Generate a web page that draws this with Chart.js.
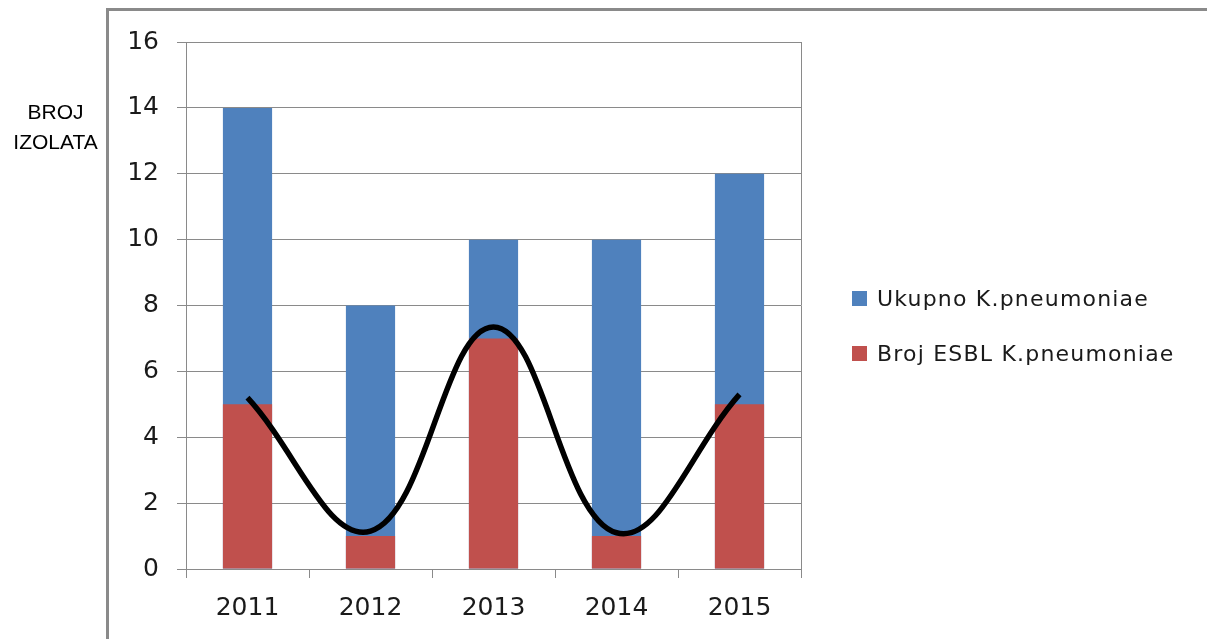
<!DOCTYPE html>
<html>
<head>
<meta charset="utf-8">
<script src="https://cdn.jsdelivr.net/npm/chart.js@4/dist/chart.umd.min.js"></script>
<style>
  body { margin: 0; background: #fff; }
  #wrap { position: relative; width: 1207px; height: 639px; overflow: hidden; }
  #okvir {
    position: absolute; left: 106px; top: 8px; width: 1200px; height: 700px;
    border-left: 3px solid #8a8a8a; border-top: 3px solid #8a8a8a;
  }
  #naslovY {
    position: absolute; left: 0; top: 97px; width: 111px; text-align: center;
    font-family: "Liberation Sans", Arial, sans-serif; font-size: 21px; line-height: 30px; color: #000;
  }
  #legenda {
    position: absolute; left: 852px; top: 283px;
    font-family: "DejaVu Sans", sans-serif; font-size: 22px; color: #1a1a1a; letter-spacing: 1.2px;
  }
  .stavka { display: flex; align-items: center; height: 30px; margin-bottom: 25px; }
  .kocka { width: 15px; height: 15px; margin-right: 10px; }
  canvas { position: absolute; left: 0; top: 0; }
</style>
</head>
<body>
<div id="wrap">
  <div id="okvir"></div>
  <canvas id="grafik" width="1207" height="639"></canvas>
  <div id="naslovY">BROJ<br>IZOLATA</div>
  <div id="legenda"></div>
</div>
<script>
// Podaci
const godine = ["2011", "2012", "2013", "2014", "2015"];
const ukupno = [14, 8, 10, 10, 12];
const esbl = [5, 1, 7, 1, 5];
const trend = [5.2, 1.15, 7.35, 1.1, 5.3];

const plava = "#4F81BD";
const crvena = "#C0504D";
const siva = "#8a8a8a";

const serije = [
  { label: "Ukupno K.pneumoniae", boja: plava },
  { label: "Broj ESBL K.pneumoniae", boja: crvena }
];

document.getElementById("legenda").innerHTML = serije.map(s =>
  `<div class="stavka"><span class="kocka" style="background:${s.boja}"></span>${s.label}</div>`
).join("");

new Chart(document.getElementById("grafik"), {
  type: "bar",
  data: {
    labels: godine,
    datasets: [
      { label: serije[0].label, data: ukupno, backgroundColor: plava, order: 2,
        barPercentage: 0.4, categoryPercentage: 1 },
      { label: serije[1].label, data: esbl, backgroundColor: crvena, order: 1,
        barPercentage: 0.4, categoryPercentage: 1 },
      { type: "line", label: "trend", data: trend, borderColor: "#000", borderWidth: 5.5,
        pointRadius: 0, tension: 0.4, fill: false, order: 0 }
    ]
  },
  options: {
    responsive: false,
    animation: false,
    devicePixelRatio: 1,
    layout: { padding: { left: 100, top: 42, right: 406, bottom: 0 } },
    plugins: { legend: { display: false }, tooltip: { enabled: false } },
    scales: {
      x: {
        stacked: true,
        offset: true,
        afterFit: s => { s.height = 70; },
        grid: {
          offset: true,
          color: c => (c.type === "scale" || c.index === 0) ? siva : "rgba(0,0,0,0)",
          tickColor: siva,
          tickLength: 9
        },
        border: { color: siva },
        ticks: { font: { family: "DejaVu Sans", size: 25 }, color: "#1a1a1a", padding: 15 }
      },
      y: {
        stacked: false,
        min: 0, max: 16,
        afterFit: s => { s.width = 86; },
        grid: { color: siva, tickColor: siva, tickLength: 9 },
        border: { color: siva },
        ticks: { stepSize: 2, font: { family: "DejaVu Sans", size: 25 }, color: "#1a1a1a", padding: 18 }
      }
    }
  }
});
</script>
</body>
</html>
